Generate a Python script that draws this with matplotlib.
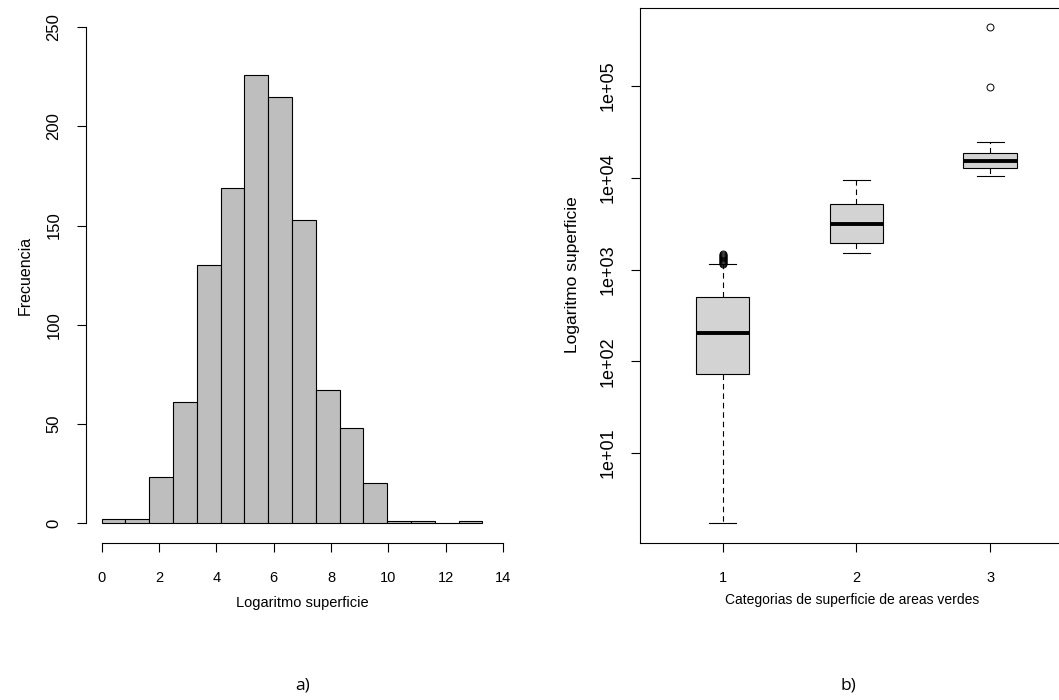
"""Histograma y diagramas de caja de la superficie de areas verdes"""

import numpy as np
import matplotlib.pyplot as plt
from matplotlib.ticker import NullLocator

plt.rcParams["font.family"] = ["Liberation Sans", "DejaVu Sans"]

# histograma del logaritmo de la superficie
bin_edges = np.linspace(0, 13.28, 17)
hist_counts = [2, 2, 23, 61, 130, 169, 226, 215, 153, 67, 48, 20, 1, 1, 0, 1]
hist_xticks = [0, 2, 4, 6, 8, 10, 12, 14]
hist_yticks = [0, 50, 100, 150, 200, 250]

# resumen de cajas por categoria de superficie
box_labels = ["1", "2", "3"]
whis_low = [1.74, 1530, 10500]
q1 = [73, 1950, 12800]
median = [204, 3150, 15300]
q3 = [498, 5200, 18500]
whis_high = [1140, 9490, 24200]
outliers = [
    [1160, 1190, 1220, 1250, 1280, 1310, 1340, 1370, 1400, 1440, 1490],
    [],
    [98200, 434500],
]
log_ticks = [1e1, 1e2, 1e3, 1e4, 1e5]
log_labels = ["1e+01", "1e+02", "1e+03", "1e+04", "1e+05"]

W, H = 1059, 700
fig = plt.figure(figsize=(W / 100, H / 100), dpi=100)


def px_axes(x0, y_top, width, height):
    """axes placed by pixel box (origin top-left)"""
    return fig.add_axes([x0 / W, 1 - (y_top + height) / H, width / W, height / H])


def r_limits(lo, hi):
    pad = 0.04 * (hi - lo)
    return lo - pad, hi + pad


# ---- a) histograma ----
ax1 = px_axes(85.6, 7.5, 433.5, 535.2)
ax1.bar(bin_edges[:-1], hist_counts, width=np.diff(bin_edges), align="edge",
        color="#bebebe", edgecolor="black", linewidth=0.8)
ax1.set_xlim(*r_limits(0, 14))
ax1.set_ylim(*r_limits(0, 250))
for side in ["top", "right"]:
    ax1.spines[side].set_visible(False)
ax1.spines["left"].set_bounds(0, 250)
ax1.spines["bottom"].set_bounds(0, 14)
ax1.set_xticks(hist_xticks)
ax1.set_yticks(hist_yticks)
ax1.set_yticklabels([str(v) for v in hist_yticks], rotation=90, va="center",
                    fontsize=12)
ax1.tick_params(direction="out", length=6.5, width=0.8)
ax1.tick_params(axis="x", pad=14, labelsize=10.5)
ax1.tick_params(axis="y", pad=11)
for s in ax1.spines.values():
    s.set_linewidth(0.8)

# ---- b) cajas en escala logaritmica ----
ax2 = px_axes(639.6, 7.5, 433.5, 535.2)
stats = []
for i, lab in enumerate(box_labels):
    stats.append(dict(label=lab, whislo=whis_low[i], q1=q1[i], med=median[i],
                      q3=q3[i], whishi=whis_high[i], fliers=outliers[i]))
ax2.bxp(stats, positions=[1, 2, 3], widths=0.4, capwidths=0.2, patch_artist=True,
        boxprops=dict(facecolor="#d3d3d3", edgecolor="black", linewidth=0.8),
        medianprops=dict(color="black", linewidth=2.8, solid_capstyle="butt"),
        whiskerprops=dict(color="black", linewidth=0.8, linestyle=(0, (5, 3.5))),
        capprops=dict(color="black", linewidth=0.8),
        flierprops=dict(marker="o", markerfacecolor="none", markeredgecolor="black",
                        markersize=5, markeredgewidth=0.7))
ax2.set_yscale("log")
all_vals = whis_low + whis_high + [v for grp in outliers for v in grp]
lo, hi = r_limits(np.log10(min(all_vals)), np.log10(max(all_vals)))
ax2.set_ylim(10 ** lo, 10 ** hi)
ax2.set_xlim(*r_limits(0.5, 3.5))
ax2.set_yticks(log_ticks)
ax2.set_yticklabels(log_labels, rotation=90, va="center", fontsize=13)
ax2.yaxis.set_minor_locator(NullLocator())
ax2.tick_params(direction="out", length=6.5, width=0.8)
ax2.tick_params(axis="x", pad=14, labelsize=10.5)
ax2.tick_params(axis="y", pad=10)
for s in ax2.spines.values():
    s.set_linewidth(0.8)

# titulos de ejes
fig.text(302.4 / W, 1 - 603 / H, "Logaritmo superficie", ha="center", va="center",
         fontsize=10.5)
fig.text(25 / W, 1 - 275 / H, "Frecuencia", rotation=90, ha="center", va="center",
         fontsize=11.5)
fig.text(852 / W, 1 - 600 / H, "Categorias de superficie de areas verdes",
         ha="center", va="center", fontsize=10)
fig.text(573 / W, 1 - 275 / H, "Logaritmo superficie", rotation=90, ha="center",
         va="center", fontsize=12.5)

fig.text(303 / W, 1 - 686 / H, "a)", ha="center", va="center", fontsize=12.5,
         family=["Open Sans", "DejaVu Sans"])
fig.text(848 / W, 1 - 686 / H, "b)", ha="center", va="center", fontsize=12.5,
         family=["Open Sans", "DejaVu Sans"])

fig.savefig("out.png", dpi=100)
